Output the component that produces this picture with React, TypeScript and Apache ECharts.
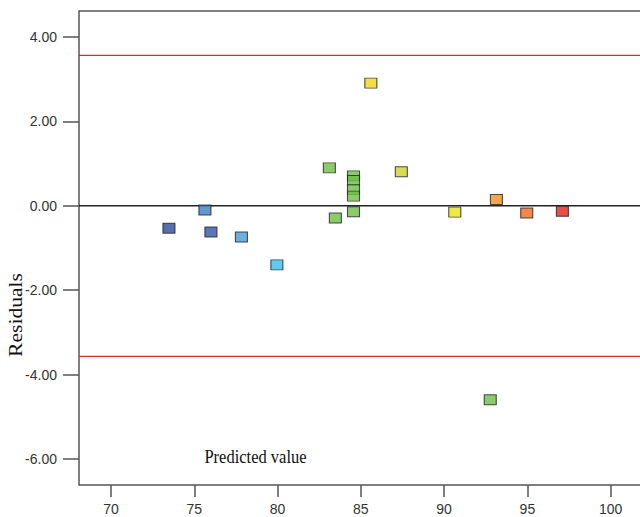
import React, { useEffect, useRef } from "react";
import * as echarts from "echarts";

const predicted = [73.48, 75.64, 76.0, 77.83, 79.96, 83.11, 83.47, 84.56, 84.56, 84.56, 84.56, 84.56, 85.6, 87.43, 90.64, 93.14, 94.96, 97.1, 92.77];
const residuals = [-0.53, -0.1, -0.62, -0.74, -1.4, 0.9, -0.29, 0.71, 0.6, 0.39, 0.23, -0.14, 2.91, 0.81, -0.15, 0.15, -0.17, -0.13, -4.6];
const pointColors = ["#2D4A9E", "#3D7CC4", "#3454A8", "#4B9BD8", "#33C1EE", "#6DBE45", "#6DBE45", "#6DBE45", "#6DBE45", "#6DBE45", "#6DBE45", "#6DBE45", "#F2D51A", "#C9D52B", "#EBE51A", "#F39124", "#EE6B1F", "#E3201F", "#6DBE45"];
const xTicks = [70, 75, 80, 85, 90, 95, 100];
const yTicks = [-6, -4, -2, 0, 2, 4];
const upperLimit = 3.57;
const lowerLimit = -3.57;
const xRange = [68.08, 102];

export default function App() {
  const ref = useRef<HTMLDivElement>(null);
  useEffect(() => {
    document.body.style.margin = "0";
    const chart = echarts.init(ref.current!, null, { renderer: "svg" });
    const labelFont = "'Liberation Sans Narrow', 'Arial Narrow', 'Liberation Sans', sans-serif";
    const hline = (y: number, color: string, width: number) => ({
      type: "line",
      data: [[xRange[0], y], [xRange[1], y]],
      symbol: "none",
      silent: true,
      z: 1,
      lineStyle: { color, width, type: "solid" },
    });
    chart.setOption({
      animation: false,
      backgroundColor: "#ffffff",
      grid: {
        left: 79,
        top: 11,
        width: 565,
        bottom: 32,
        show: true,
        borderColor: "#555",
        borderWidth: 1.5,
        backgroundColor: "transparent",
      },
      xAxis: {
        type: "value",
        min: xRange[0],
        max: xRange[1],
        axisLine: { show: false, onZero: false },
        splitLine: { show: false },
        axisTick: { show: true, length: 12, lineStyle: { color: "#555", width: 1.5 }, customValues: xTicks },
        axisLabel: {
          customValues: xTicks,
          margin: 17,
          fontSize: 14,
          fontFamily: labelFont,
          color: "#333",
          formatter: (v: number) => String(v),
        },
      },
      yAxis: {
        type: "value",
        min: -6.62,
        max: 4.62,
        axisLine: { show: false, onZero: false },
        splitLine: { show: false },
        axisTick: { show: true, length: 16, lineStyle: { color: "#555", width: 1.5 }, customValues: yTicks },
        axisLabel: {
          customValues: yTicks,
          margin: 22,
          fontSize: 14,
          fontFamily: labelFont,
          color: "#333",
          formatter: (v: number) => v.toFixed(2),
        },
      },
      graphic: [
        {
          type: "text",
          x: 16,
          y: 315,
          rotation: Math.PI / 2,
          scaleX: 1.2,
          style: {
            text: "Residuals",
            font: "18px 'Liberation Serif', 'Times New Roman', serif",
            fill: "#111",
            align: "center",
            verticalAlign: "middle",
          },
        },
        {
          type: "text",
          x: 255.5,
          y: 456.5,
          scaleY: 1.2,
          style: {
            text: "Predicted value",
            font: "16.5px 'Liberation Serif', 'Times New Roman', serif",
            fill: "#111",
            align: "center",
            verticalAlign: "middle",
          },
        },
      ],
      series: [
        hline(upperLimit, "#E02828", 1.2),
        hline(lowerLimit, "#E02828", 1.2),
        hline(0, "#222", 1.5),
        {
          type: "scatter",
          symbol: "rect",
          symbolSize: [12, 10],
          z: 3,
          data: predicted.map((x, i) => ({
            value: [x, residuals[i]],
            itemStyle: { color: pointColors[i], borderColor: "#222", borderWidth: 1 },
          })),
        },
      ],
    });
    return () => chart.dispose();
  }, []);
  return (
    <div style={{ width: 640, height: 517, overflow: "hidden", position: "relative" }}>
      <div ref={ref} style={{ width: 652, height: 517 }} />
    </div>
  );
}
